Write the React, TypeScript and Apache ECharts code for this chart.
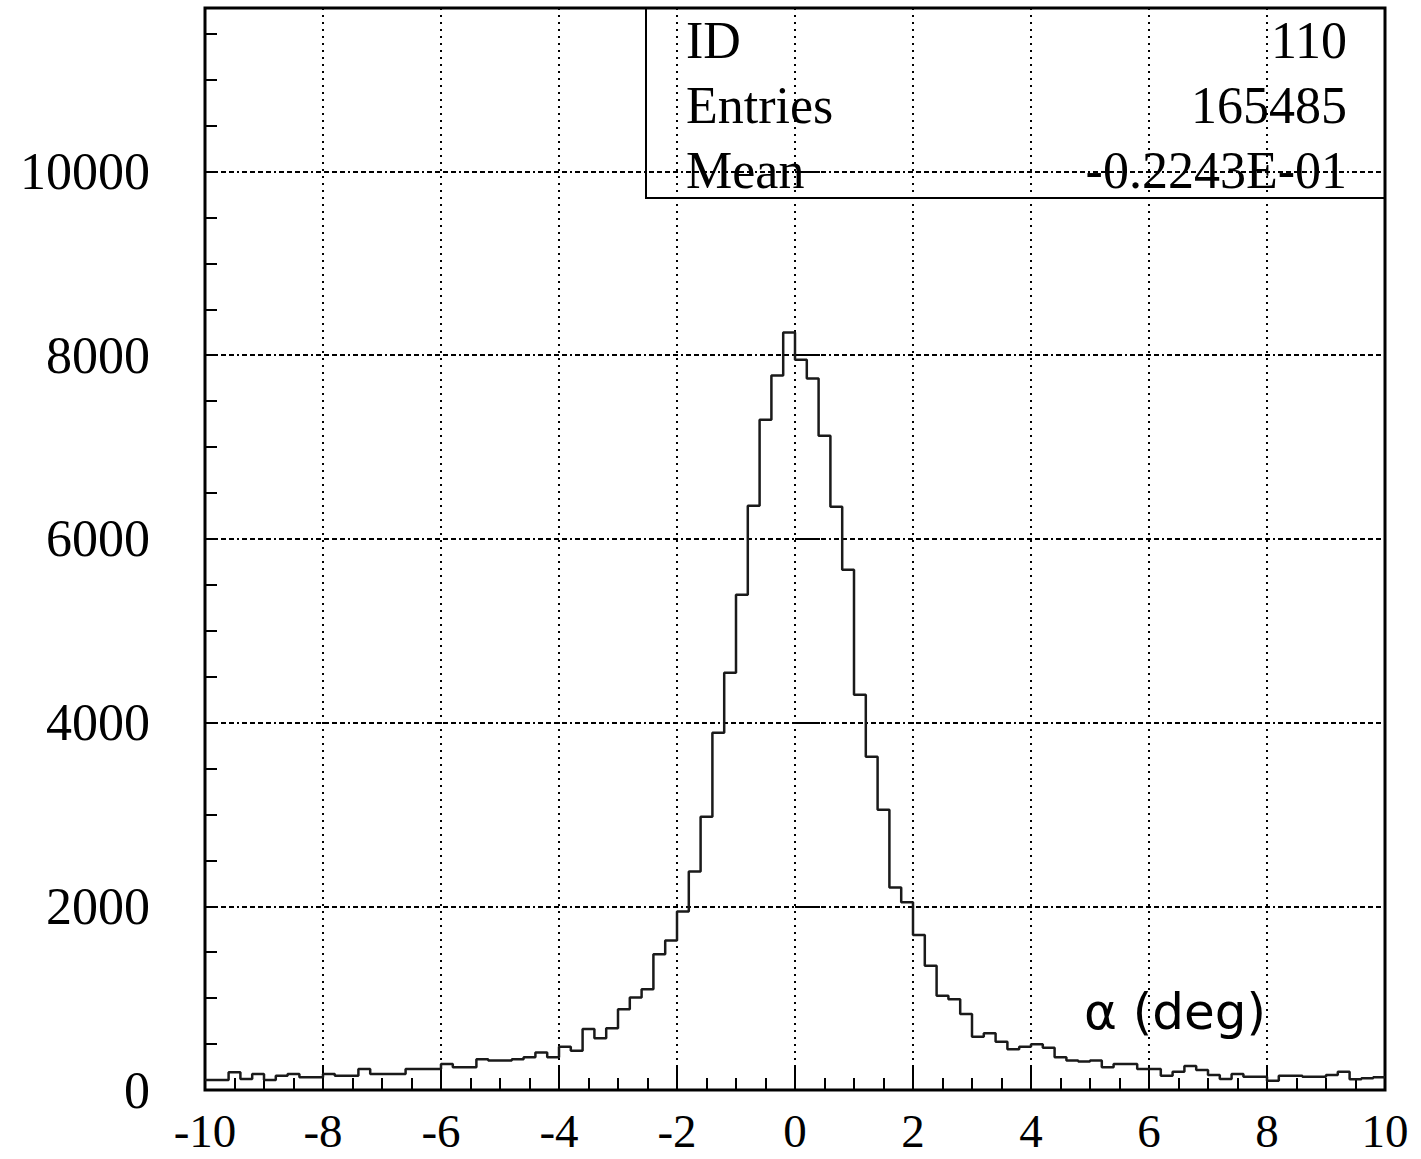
import React, { useEffect, useRef } from "react";
import * as echarts from "echarts";

// Histogram: 100 bins of width 0.2 from -10 to 10
const binLow = -10;
const binWidth = 0.2;
const counts = [
  109, 109, 193, 120, 174, 109, 156, 174, 138, 138,
  174, 156, 156, 229, 174, 174, 174, 229, 229, 229,
  283, 247, 247, 334, 320, 320, 334, 356, 407, 356,
  472, 428, 664, 563, 672, 879, 1006, 1097, 1478, 1627,
  1943, 2378, 2974, 3889, 4542, 5392, 6362, 7298, 7778, 8246,
  7950, 7745, 7124, 6350, 5664, 4303, 3627, 3050, 2204, 2044,
  1688, 1354, 1027, 988, 828, 581, 617, 526, 443, 472,
  497, 461, 356, 320, 309, 320, 247, 283, 283, 229,
  229, 156, 200, 261, 218, 163, 120, 174, 145, 145,
  101, 156, 156, 145, 145, 163, 200, 116, 127, 138,
];

const xMin = -10;
const xMax = 10;
const xStep = 2;
const yMin = 0;
const yMax = 11780;
const yStep = 2000;
const yMinorStep = 500;

const statsLabels = ["ID", "Entries", "Mean"];
const statsValues = ["110", "165485", "-0.2243E-01"];
const xTitle = "α (deg)";

const SERIF = "'Liberation Serif', 'Times New Roman', serif";

export default function App() {
  const ref = useRef<HTMLDivElement>(null);

  useEffect(() => {
    if (!ref.current) return;
    const chart = echarts.init(ref.current, null, { renderer: "svg" });

    const stepPoints: [number, number][] = [];
    counts.forEach((v, i) => {
      const lo = binLow + i * binWidth;
      const hi = lo + binWidth;
      stepPoints.push([+lo.toFixed(4), v]);
      stepPoints.push([+hi.toFixed(4), v]);
    });

    const gridLeft = 205;
    const gridTop = 8;
    const gridRight = 36;
    const boxLeft = 646;
    const boxRight = 1421 - gridRight;
    const boxBottom = 198;
    const rowY = [40, 105, 170];

    const graphics: any[] = [
      {
        type: "rect",
        z: 10,
        shape: { x: boxLeft, y: gridTop, width: boxRight - boxLeft, height: boxBottom - gridTop },
        style: { fill: "none", stroke: "#000", lineWidth: 2 },
      },
    ];
    statsLabels.forEach((t, i) => {
      graphics.push({
        type: "text",
        z: 11,
        x: 686,
        y: rowY[i],
        style: {
          text: t,
          fill: "#000",
          font: `52px ${SERIF}`,
          textAlign: "left",
          textVerticalAlign: "middle",
        },
      });
      graphics.push({
        type: "text",
        z: 11,
        x: 1347,
        y: rowY[i],
        style: {
          text: statsValues[i],
          fill: "#000",
          font: `52px ${SERIF}`,
          textAlign: "right",
          textVerticalAlign: "middle",
        },
      });
    });
    graphics.push({
      type: "text",
      z: 11,
      x: 1084,
      y: 1012,
      style: {
        text: xTitle,
        fill: "#000",
        font: `50px 'DejaVu Sans', 'Noto Sans', sans-serif`,
        textAlign: "left",
        textVerticalAlign: "middle",
      },
    });

    const tickStyle = { color: "#000", width: 2 };

    chart.setOption({
      animation: false,
      backgroundColor: "#fff",
      grid: {
        left: gridLeft,
        right: gridRight,
        top: gridTop,
        bottom: 69,
        show: true,
        borderColor: "#000",
        borderWidth: 3,
        backgroundColor: "transparent",
        z: 5,
      },
      xAxis: {
        type: "value",
        min: xMin,
        max: xMax,
        interval: xStep,
        axisLine: { show: false },
        axisTick: { show: true, inside: true, length: 25, lineStyle: tickStyle },
        minorTick: { show: true, splitNumber: 4, length: 12, lineStyle: tickStyle },
        axisLabel: {
          fontFamily: SERIF,
          fontSize: 47,
          lineHeight: 46,
          color: "#000",
          margin: 18,
          formatter: (v: number) => String(v),
        },
        splitLine: {
          show: true,
          lineStyle: { color: "#000", width: 2, type: [2, 5] },
        },
      },
      yAxis: [
        {
          type: "value",
          min: yMin,
          max: yMax,
          interval: yStep,
          axisLine: { show: false },
          axisTick: { show: true, inside: true, length: 25, lineStyle: tickStyle },
          axisLabel: {
            fontFamily: SERIF,
            fontSize: 52,
            color: "#000",
            margin: 55,
            showMaxLabel: false,
            formatter: (v: number) => String(v),
          },
          splitLine: {
            show: true,
            lineStyle: { color: "#000", width: 2, type: [5, 3, 5, 3, 5, 3, 5, 3, 2, 3] },
          },
        },
        {
          type: "value",
          position: "left",
          offset: 0,
          min: yMin,
          max: yMax,
          interval: yMinorStep,
          axisLine: { show: false },
          axisTick: { show: true, inside: true, length: 12, lineStyle: tickStyle },
          axisLabel: { show: false },
          splitLine: { show: false },
        },
      ],
      series: [
        {
          type: "line",
          data: stepPoints,
          yAxisIndex: 0,
          showSymbol: false,
          symbol: "none",
          clip: true,
          z: 8,
          lineStyle: { color: "#1a1a1a", width: 2.5 },
        },
      ],
      graphic: graphics,
    });

    return () => chart.dispose();
  }, []);

  return (
    <div
      ref={ref}
      style={{ position: "absolute", left: 0, top: 0, width: 1421, height: 1159 }}
    />
  );
}
